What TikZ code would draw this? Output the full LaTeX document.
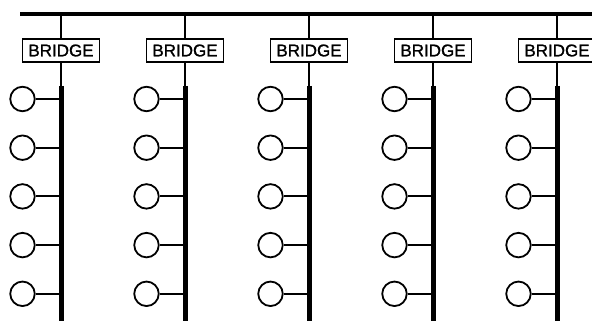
\documentclass[tikz,border=0pt]{standalone}
\usepackage{fontspec}
\setmainfont{Liberation Sans}
\newfontfamily\labelfont[FakeBold=1.2]{Liberation Sans}
\tikzset{
  bridgebox/.style={draw, line width=1.8pt, fill=white, minimum width=77pt, minimum height=23pt,
    inner sep=0pt, font=\labelfont\fontsize{17}{17}\selectfont},
  station/.style={draw, circle, line width=1.8pt, minimum size=24.5pt, inner sep=0pt},
  thin/.style={line width=2pt},
  segment/.style={line width=5pt}}
\begin{document}
\begin{tikzpicture}[x=1pt,y=-1pt]
\useasboundingbox (0,0) rectangle (592,321);
% backbone
\coordinate (busL) at (20,14);
\coordinate (busR) at (592,14);
\draw[line width=4.5pt] (busL) -- (busR);
\foreach \i in {1,...,5} {
    \pgfmathsetmacro{\xx}{61 + 124*(\i-1)}  % one LAN every 124 units
    \coordinate (top\i) at (\xx,14);
    \node[bridgebox] (br\i) at (\xx,50.5) {BRIDGE};
    \coordinate (lanA\i) at (\xx,86);
    \coordinate (lanB\i) at (\xx,321);
    \draw[thin] (top\i) -- (br\i.north) (br\i.south) -- (lanA\i);
    \draw[segment] (lanA\i) -- (lanB\i);
    \foreach \j in {1,...,5} {
        \pgfmathsetmacro{\yy}{99 + 48.7*(\j-1)}
        \node[station] (st\i\j) at (\xx-38.5,\yy) {};
        \coordinate (tap\i\j) at (\xx,\yy);
        \draw[thin] (st\i\j) -- (tap\i\j);}}
\end{tikzpicture}
\end{document}
